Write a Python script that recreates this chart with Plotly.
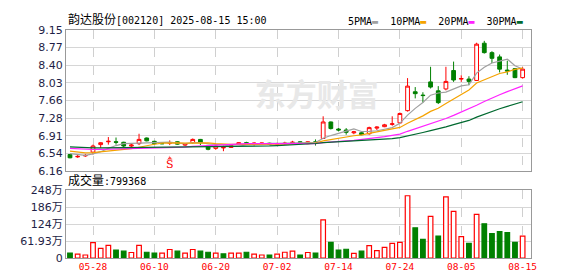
import plotly.graph_objects as go

# ---------------- data ----------------
dates = ["05-23", "05-26", "05-27", "05-28", "05-29", "05-30",
         "06-03", "06-04", "06-05", "06-06", "06-09", "06-10", "06-11", "06-12", "06-13",
         "06-16", "06-17", "06-18", "06-19", "06-20", "06-23", "06-24", "06-25", "06-26",
         "06-27", "06-30", "07-01", "07-02", "07-03", "07-04", "07-07", "07-08", "07-09",
         "07-10", "07-11", "07-14", "07-15", "07-16", "07-17", "07-18", "07-21", "07-22",
         "07-23", "07-24", "07-25", "07-28", "07-29", "07-30", "07-31", "08-01", "08-04",
         "08-05", "08-06", "08-07", "08-08", "08-11", "08-12", "08-13", "08-14", "08-15"]

open_ = [6.51, 6.46, 6.48, 6.56, 6.72, 6.78, 6.78, 6.77, 6.69, 6.74,
         6.86, 6.79, 6.74, 6.75, 6.78, 6.71, 6.76, 6.83, 6.69, 6.64,
         6.65, 6.66, 6.73, 6.76, 6.74, 6.75, 6.75, 6.73, 6.74, 6.76,
         6.78, 6.74, 6.78, 6.85, 7.20, 7.05, 7.03, 6.97, 6.97, 6.95,
         7.07, 7.10, 7.15, 7.18, 7.44, 7.84, 7.77, 8.05, 7.86, 7.90,
         8.29, 8.11, 8.11, 8.08, 8.87, 8.67, 8.58, 8.30, 8.33, 8.14]
high = [6.52, 6.51, 6.52, 6.72, 6.77, 6.88, 6.87, 6.78, 6.75, 6.95,
        6.87, 6.80, 6.75, 6.81, 6.79, 6.75, 6.85, 6.84, 6.71, 6.71,
        6.70, 6.71, 6.77, 6.78, 6.77, 6.76, 6.76, 6.76, 6.78, 6.80,
        6.79, 6.79, 6.83, 7.32, 7.21, 7.07, 7.07, 7.01, 6.98, 7.10,
        7.11, 7.16, 7.32, 7.40, 8.13, 7.94, 7.83, 8.37, 7.96, 8.37,
        8.48, 8.19, 8.17, 8.88, 8.92, 8.70, 8.63, 8.50, 8.34, 8.36]
low = [6.43, 6.44, 6.46, 6.51, 6.65, 6.72, 6.72, 6.66, 6.63, 6.71,
       6.79, 6.72, 6.73, 6.71, 6.72, 6.69, 6.74, 6.71, 6.60, 6.61,
       6.58, 6.65, 6.72, 6.72, 6.70, 6.74, 6.72, 6.71, 6.72, 6.74,
       6.73, 6.73, 6.70, 6.84, 7.04, 7.00, 6.93, 6.94, 6.92, 6.93,
       7.03, 7.09, 7.12, 7.17, 7.42, 7.70, 7.61, 7.91, 7.58, 7.87,
       8.05, 8.05, 7.98, 8.07, 8.65, 8.45, 8.25, 8.20, 8.13, 8.12]
close = [6.44, 6.47, 6.49, 6.69, 6.76, 6.79, 6.77, 6.69, 6.71, 6.83,
         6.80, 6.74, 6.74, 6.76, 6.73, 6.74, 6.83, 6.76, 6.62, 6.69,
         6.66, 6.70, 6.76, 6.75, 6.75, 6.75, 6.73, 6.74, 6.75, 6.77,
         6.76, 6.78, 6.76, 7.20, 7.06, 7.03, 6.98, 6.99, 6.93, 7.08,
         7.09, 7.14, 7.16, 7.38, 7.96, 7.80, 7.76, 7.94, 7.61, 8.06,
         8.09, 8.12, 8.06, 8.85, 8.67, 8.55, 8.32, 8.28, 8.14, 8.32]

# closes of the 29 sessions before the window (estimated from where the MA lines start)
pre_close = [6.78, 6.75, 6.72, 6.70, 6.74, 6.76, 6.73, 6.71, 6.72, 6.69,
             6.68, 6.71, 6.73, 6.70, 6.72, 6.69, 6.70, 6.68, 6.71, 6.68,
             6.66, 6.65, 6.63, 6.61, 6.60,
             6.58, 6.56, 6.54, 6.53]

volume_wan = [18, 14, 11, 56, 35, 46, 29, 25, 20, 46,
              21, 18, 18, 31, 25, 18, 31, 25, 21, 18,
              15, 18, 18, 21, 14, 11, 11, 14, 21, 25,
              11, 20, 18, 139, 57, 29, 32, 17, 25, 45,
              27, 39, 53, 57, 227, 110, 68, 152, 80, 223,
              170, 78, 53, 159, 125, 89, 96, 93, 57, 79.94]
vol_up = [0, 1, 1, 1, 1, 1, 0, 0, 1, 1,
          0, 0, 1, 1, 0, 1, 1, 0, 0, 1,
          0, 1, 1, 0, 1, 1, 0, 1, 1, 1,
          0, 1, 0, 1, 0, 0, 0, 1, 0, 1,
          1, 1, 1, 1, 1, 0, 0, 1, 0, 1,
          1, 1, 0, 1, 0, 0, 0, 0, 0, 1]

tick_dates = ["05-28", "06-10", "06-20", "07-02", "07-14", "07-24", "08-05", "08-15"]
price_tick_labels = ["6.16", "6.54", "6.91", "7.28", "7.66", "8.03", "8.40", "8.77", "9.15"]
price_min, price_max = 6.16, 9.15
vol_tick_labels = ["0", "61.93万", "124万", "186万", "248万"]
vol_max = 247.72
last_volume = "799368"
signal_idx = 13

ma_periods = [5, 10, 20, 30]
ma_names = ["5PMA", "10PMA", "20PMA", "30PMA"]
ma_colors = ["#a0a0a0", "#f5a300", "#ff22ff", "#00692f"]

# ---------------- derived ----------------
n = len(close)
xs = list(range(n))
all_close = pre_close + close
off = len(pre_close)


def moving_avg(p):
    out = []
    for i in range(n):
        seg = all_close[off + i - p + 1: off + i + 1]
        out.append(sum(seg) / len(seg))
    return out


tick_idx = [dates.index(d) for d in tick_dates]
step = (price_max - price_min) / (len(price_tick_labels) - 1)
price_tick_vals = [price_min + k * step for k in range(len(price_tick_labels))]
vol_tick_vals = [vol_max * k / (len(vol_tick_labels) - 1) for k in range(len(vol_tick_labels))]

RED = "#ff0000"
GREEN = "#008000"
AX = "#999999"
GRID = "#d6d6d6"
LBL = "#1e1e46"

fig = go.Figure()

# watermark (drawn first so it sits behind the candles)
fig.add_trace(go.Scatter(
    x=[(n - 1) * 0.545], y=[price_min + (price_max - price_min) * 0.515],
    mode="text", text=["<b>东方财富</b>"],
    textfont=dict(family="Noto Sans CJK SC", size=31, color="#e8e8e8"),
    xaxis="x", yaxis="y", hoverinfo="skip",
))

fig.add_trace(go.Candlestick(
    x=xs, open=open_, high=high, low=low, close=close,
    increasing=dict(line=dict(color=RED, width=1), fillcolor="white"),
    decreasing=dict(line=dict(color=GREEN, width=1), fillcolor=GREEN),
    whiskerwidth=0, xaxis="x", yaxis="y", hoverinfo="skip",
))

for p, nm, col in zip(ma_periods, ma_names, ma_colors):
    fig.add_trace(go.Scatter(x=xs, y=moving_avg(p), mode="lines", name=nm,
                             line=dict(color=col, width=1.2), xaxis="x", yaxis="y",
                             hoverinfo="skip"))

# sell signal marker
fig.add_trace(go.Scatter(
    x=[signal_idx, signal_idx], y=[price_min + 0.265, price_min + 0.12],
    mode="markers+text", text=["", "S"],
    marker=dict(symbol=["triangle-up", "circle"], size=[6, 0.1], color=RED),
    textposition="middle center",
    textfont=dict(family="DejaVu Serif", size=11, color=RED),
    xaxis="x", yaxis="y", hoverinfo="skip",
))

fig.add_trace(go.Bar(
    x=xs, y=volume_wan, width=0.6,
    marker=dict(color=["white" if u else GREEN for u in vol_up],
                line=dict(color=[RED if u else GREEN for u in vol_up], width=1.2)),
    xaxis="x2", yaxis="y2", hoverinfo="skip",
))

xr = [-0.52, n + 0.09]
common_x = dict(range=xr, tickvals=tick_idx, showgrid=True, gridcolor="#cfcfcf",
                griddash="dash", gridwidth=1, showline=True, mirror=True, linecolor=AX,
                linewidth=1, zeroline=False, ticks="", fixedrange=True)

fig.update_layout(
    width=578, height=276,
    margin=dict(l=56, r=55, t=22, b=21),
    paper_bgcolor="white", plot_bgcolor="white",
    showlegend=False,
    xaxis=dict(domain=[0, 1], anchor="y", showticklabels=False,
               rangeslider=dict(visible=False), **common_x),
    yaxis=dict(domain=[0.3815, 1], range=[price_min, price_max], tickvals=price_tick_vals,
               ticktext=price_tick_labels, showgrid=True, gridcolor=GRID, zeroline=False,
               showline=True, mirror=True, linecolor=AX, ticks="",
               tickfont=dict(family="DejaVu Sans", size=11, color=LBL)),
    xaxis2=dict(domain=[0, 1], anchor="y2", ticktext=tick_dates, showticklabels=True,
                tickfont=dict(family="DejaVu Sans Mono", size=9.5, color=RED), **common_x),
    yaxis2=dict(domain=[0, 0.2979], range=[0, vol_max], tickvals=vol_tick_vals,
                ticktext=vol_tick_labels, showgrid=True, gridcolor=GRID, zeroline=False,
                showline=True, mirror=True, linecolor=AX, ticks="",
                tickfont=dict(family="DejaVu Sans, Noto Sans CJK SC", size=11, color=LBL)),
)

ann = []
# title
ann.append(dict(text="<span style='font-size:12px'>韵达股份</span>[002120] 2025-08-15 15:00",
                x=0, y=1.0, xref="paper", yref="paper", xanchor="left", yanchor="bottom",
                yshift=1, showarrow=False,
                font=dict(family="DejaVu Sans Mono, Noto Sans CJK SC", size=10, color="#000")))
# legend
leg = "  ".join(f"{nm}<span style='color:{c}'>▬</span>" for nm, c in zip(ma_names, ma_colors))
ann.append(dict(text=leg, x=(337 - 56) / (578 - 56 - 55), y=1.0, xref="paper", yref="paper",
                showarrow=False, xanchor="left", yanchor="bottom", yshift=1,
                font=dict(family="DejaVu Sans Mono", size=10, color="#000")))
# volume label
ann.append(dict(text=f"<span style='font-size:12px'>成交量</span>:{last_volume}",
                x=0, y=0.2979, xref="paper", yref="paper", xanchor="left", yanchor="bottom",
                showarrow=False,
                font=dict(family="DejaVu Sans Mono, Noto Sans CJK SC", size=10, color="#000")))
fig.update_layout(annotations=ann)

fig.write_html("out.html")
